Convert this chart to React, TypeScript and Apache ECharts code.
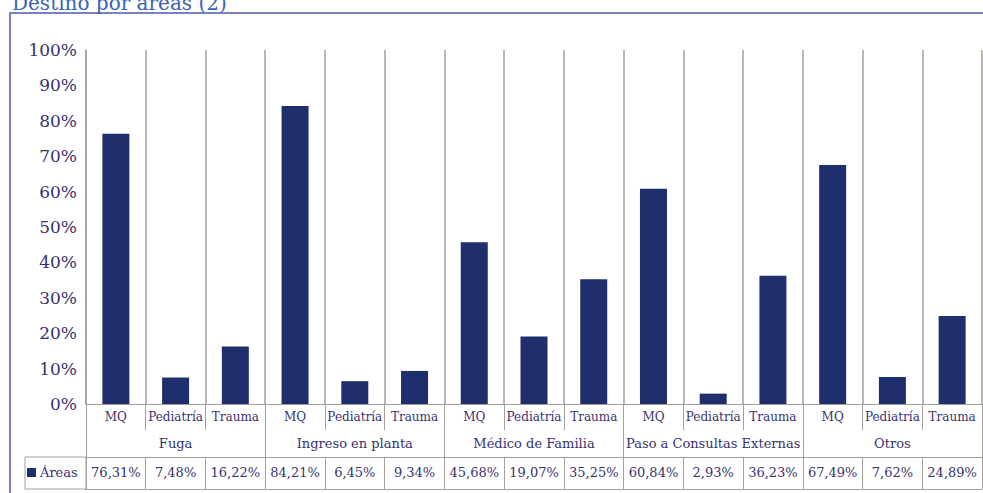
import React, { useEffect, useRef } from "react";
import * as echarts from "echarts";

const groups = ["Fuga", "Ingreso en planta", "Médico de Familia", "Paso a Consultas Externas", "Otros"];
const subCategories = ["MQ", "Pediatría", "Trauma"];
const fugaValues = [76.31, 7.48, 16.22];
const ingresoValues = [84.21, 6.45, 9.34];
const medicoValues = [45.68, 19.07, 35.25];
const pasoValues = [60.84, 2.93, 36.23];
const otrosValues = [67.49, 7.62, 24.89];
const seriesName = "Áreas";
const titleText = "Destino por áreas (2)";
const yTicks = [0, 10, 20, 30, 40, 50, 60, 70, 80, 90, 100];

const FONT = "'DejaVu Serif', serif";
const TEXT = "#37326e";
const GRIDC = "#a69f9a";
const BAR = "#1f2e6c";

export default function App() {
  const ref = useRef<HTMLDivElement>(null);
  useEffect(() => {
    if (!ref.current) return;
    const chart = echarts.init(ref.current, undefined, { renderer: "svg" });
    const allValues = [fugaValues, ingresoValues, medicoValues, pasoValues, otrosValues].flat();
    const cats = groups.flatMap(() => subCategories);
    const catIds = cats.map((c, i) => c + "#" + i);
    const valueLabels = allValues.map((v) => v.toFixed(2).replace(".", ",") + "%");
    const fmtSub = (v: string) => v.split("#")[0];
    chart.setOption({
      animation: false,
      backgroundColor: "#ffffff",
      grid: { left: 86, right: 1, top: 50, bottom: 89, containLabel: false },
      legend: {
        left: 27,
        top: 466,
        icon: "rect",
        itemWidth: 9,
        itemHeight: 9,
        itemGap: 4,
        padding: 0,
        textStyle: { fontFamily: FONT, fontSize: 13, color: TEXT, padding: [0, 0, 0, -1] },
        data: [seriesName],
      },
      graphic: [
        {
          type: "rect",
          shape: { x: 10, y: 13, width: 1000, height: 500 },
          style: { fill: "none", stroke: "#4e5aa8", lineWidth: 1.5 },
          silent: true,
        },
        {
          type: "rect",
          shape: { x: 25, y: 457, width: 61, height: 32 },
          style: { fill: "none", stroke: GRIDC, lineWidth: 1 },
          silent: true,
        },
        {
          type: "text",
          left: 12,
          top: -7,
          style: { text: titleText, fontFamily: FONT, fontSize: 20, fill: "#3b63b6" },
          silent: true,
        },
      ],
      xAxis: [
        {
          type: "category",
          data: catIds,
          position: "bottom",
          axisLine: { show: true, lineStyle: { color: GRIDC, width: 1 } },
          axisTick: { show: true, length: 26, interval: 0, lineStyle: { color: GRIDC } },
          splitLine: { show: true, interval: 0, lineStyle: { color: GRIDC, width: 1.5 } },
          axisLabel: { interval: 0, margin: 7, fontFamily: FONT, fontSize: 12, color: TEXT, formatter: fmtSub },
        },
        {
          type: "category",
          data: groups,
          position: "bottom",
          axisLine: { show: false },
          axisTick: { show: true, length: 85, interval: 0, lineStyle: { color: GRIDC } },
          axisLabel: { interval: 0, margin: 33, fontFamily: FONT, fontSize: 13, color: TEXT },
        },
        {
          type: "category",
          data: valueLabels.map((v, i) => v + "#" + i),
          position: "bottom",
          offset: 53,
          axisLine: { show: true, lineStyle: { color: GRIDC } },
          axisTick: { show: true, length: 32, interval: 0, lineStyle: { color: GRIDC } },
          axisLabel: { interval: 0, margin: 9, fontFamily: FONT, fontSize: 13, color: TEXT, formatter: fmtSub },
        },
        {
          type: "category",
          data: catIds,
          position: "bottom",
          offset: 85,
          axisLine: { show: true, lineStyle: { color: GRIDC } },
          axisTick: { show: false },
          axisLabel: { show: false },
        },
      ],
      yAxis: {
        type: "value",
        min: yTicks[0],
        max: yTicks[yTicks.length - 1],
        interval: 10,
        axisLine: { show: true, lineStyle: { color: GRIDC, width: 1.5 } },
        axisTick: { show: false },
        splitLine: { show: false },
        axisLabel: { margin: 9, fontFamily: FONT, fontSize: 17, color: TEXT, formatter: "{value}%" },
      },
      series: [
        {
          name: seriesName,
          type: "bar",
          xAxisIndex: 0,
          yAxisIndex: 0,
          barWidth: 27,
          itemStyle: { color: BAR },
          data: allValues,
        },
      ],
    });
    return () => chart.dispose();
  }, []);
  return <div ref={ref} style={{ position: "fixed", left: 0, top: 0, width: 983, height: 493 }} />;
}
